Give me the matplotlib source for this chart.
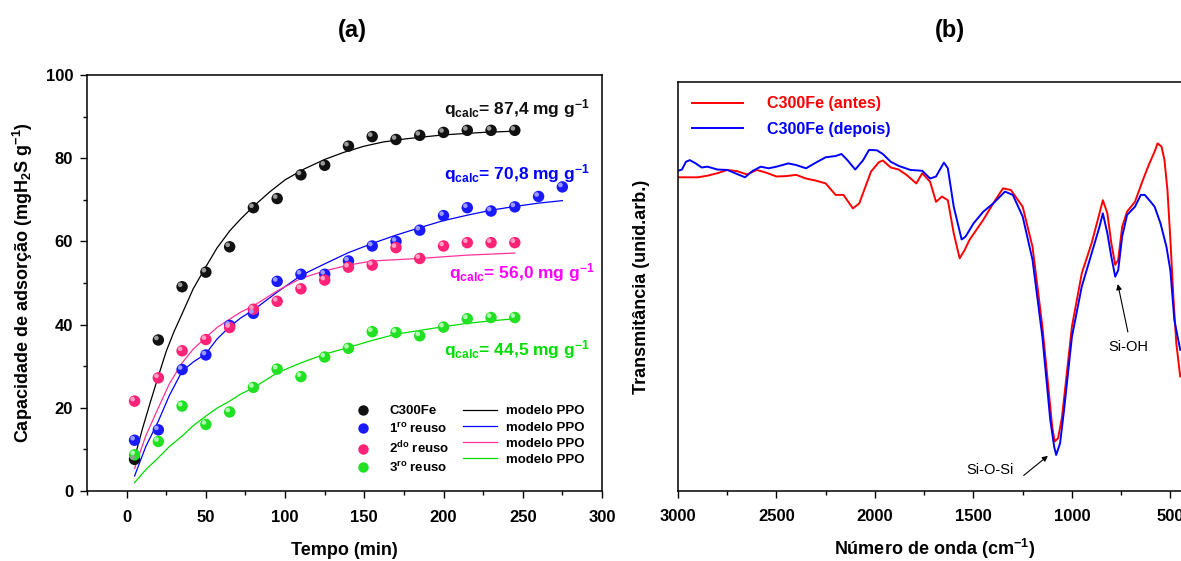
import matplotlib
matplotlib.use("Agg")
import matplotlib.pyplot as plt
from matplotlib.lines import Line2D
from matplotlib.ticker import MultipleLocator, NullLocator
import matplotlib.transforms as mtransforms

plt.rcParams['font.family'] = ['Liberation Sans', 'DejaVu Sans']
plt.rcParams['font.weight'] = 'bold'
plt.rcParams['mathtext.default'] = 'regular'

# ---------------- panel (a) data ----------------
t_main = [5, 20, 35, 50, 65, 80, 95, 110, 125, 140, 155, 170, 185, 200, 215, 230, 245]
t_reuse1 = t_main + [260, 275]

q_c300 = [7.6, 36.3, 49.1, 52.6, 58.7, 68.1, 70.3, 76.0, 78.3, 82.9, 85.2, 84.5, 85.5, 86.2, 86.7, 86.7, 86.7]
q_reuse1 = [12.2, 14.7, 29.2, 32.7, 39.8, 42.7, 50.4, 52.1, 52.1, 55.3, 58.9, 60.0, 62.7, 66.2, 68.1, 67.3, 68.3, 70.8, 73.1]
q_reuse2 = [21.6, 27.2, 33.7, 36.4, 39.3, 43.7, 45.6, 48.6, 50.7, 53.8, 54.3, 58.5, 55.9, 58.9, 59.7, 59.7, 59.7]
q_reuse3 = [8.7, 11.9, 20.4, 16.0, 19.0, 24.9, 29.3, 27.5, 32.2, 34.3, 38.3, 38.1, 37.3, 39.4, 41.4, 41.7, 41.7]

# model (PPO) curves
tm_c300 = [5, 10, 15, 20, 25, 30, 35, 42, 50, 57, 65, 72, 80, 90, 100, 112, 125, 137, 150, 162, 175, 187, 200, 212, 225, 245]
qm_c300 = [8.0, 15.0, 21.4, 27.6, 33.6, 38.4, 42.6, 48.6, 53.9, 58.4, 62.5, 65.4, 68.4, 71.8, 74.8, 77.4, 79.7, 81.4, 82.9, 83.9, 84.6, 85.1, 85.6, 85.9, 86.2, 86.5]
tm_r1 = [5, 12, 20, 27, 35, 42, 50, 57, 65, 72, 80, 95, 110, 125, 140, 155, 170, 185, 200, 215, 230, 245, 260, 275]
qm_r1 = [3.6, 10.6, 16.8, 23.0, 28.8, 31.0, 33.0, 36.5, 39.5, 41.6, 43.5, 47.8, 51.8, 54.6, 57.3, 59.5, 61.5, 63.3, 65.0, 66.3, 67.5, 68.4, 69.2, 69.8]
tm_r2 = [5, 12, 20, 27, 35, 42, 50, 57, 65, 72, 80, 95, 110, 125, 140, 155, 185, 215, 245]
qm_r2 = [5.4, 13.2, 20.0, 25.8, 30.8, 34.1, 36.9, 39.3, 41.3, 43.0, 44.5, 48.1, 51.1, 52.9, 54.3, 55.3, 55.9, 56.7, 57.2]
tm_r3 = [5, 12, 20, 27, 35, 42, 50, 57, 65, 72, 80, 95, 110, 125, 140, 155, 170, 185, 200, 215, 230, 245]
qm_r3 = [2.0, 5.1, 8.0, 10.7, 13.2, 15.7, 18.0, 19.9, 21.6, 23.3, 24.8, 28.4, 30.8, 32.9, 34.5, 36.2, 37.7, 38.6, 39.5, 40.3, 40.9, 41.4]

series_labels = ['C300Fe', '1$^{ro}$ reuso', '2$^{do}$ reuso', '3$^{ro}$ reuso']
qcalc_labels = ['q$_{calc}$= 87,4 mg g$^{-1}$', 'q$_{calc}$= 70,8 mg g$^{-1}$',
                'q$_{calc}$= 56,0 mg g$^{-1}$', 'q$_{calc}$= 44,5 mg g$^{-1}$']

# ---------------- panel (b) data ----------------
wn_antes = [3000, 2950, 2900, 2850, 2800, 2750, 2700, 2650, 2600, 2550, 2500, 2450, 2400, 2350, 2300,
            2250, 2200, 2160, 2112, 2080, 2020, 1980, 1960, 1920, 1880, 1840, 1790, 1760, 1720, 1690,
            1660, 1630, 1600, 1570, 1545, 1520, 1450, 1400, 1350, 1310, 1250, 1200, 1150, 1120, 1100,
            1088, 1070, 1050, 1000, 950, 900, 860, 843, 820, 800, 780, 765, 745, 720, 680, 640, 610,
            580, 565, 545, 530, 515, 500, 485, 470, 450]
T_antes = [76.7, 76.7, 76.7, 77.1, 77.7, 78.5, 78.2, 77.4, 78.5, 77.8, 76.9, 77.0, 77.3, 76.4, 75.9,
           75.2, 72.4, 72.4, 69.1, 70.3, 78.1, 80.4, 80.8, 79.1, 78.6, 77.3, 75.2, 77.7, 75.6, 70.7,
           72.0, 71.1, 63.0, 56.9, 58.9, 61.4, 66.3, 70.3, 74.0, 73.6, 69.5, 59.7, 40.2, 25.5, 15.7,
           12.1, 12.9, 18.2, 40.2, 53.2, 60.6, 67.9, 71.1, 67.9, 60.6, 55.3, 56.5, 64.6, 68.3, 70.7,
           76.0, 79.7, 83.0, 85.0, 84.2, 80.9, 73.6, 61.4, 47.5, 36.1, 28.0]

wn_depois = [3000, 2980, 2960, 2940, 2910, 2880, 2850, 2800, 2750, 2700, 2660, 2620, 2580, 2540, 2500,
             2440, 2400, 2350, 2300, 2250, 2200, 2170, 2140, 2100, 2060, 2030, 1990, 1960, 1920, 1880,
             1820, 1760, 1720, 1690, 1650, 1630, 1600, 1560, 1540, 1500, 1450, 1400, 1340, 1300, 1250,
             1200, 1150, 1110, 1090, 1080, 1060, 1040, 1000, 950, 900, 860, 843, 820, 800, 780, 765,
             745, 720, 680, 650, 630, 600, 580, 550, 520, 500, 480, 450]
T_depois = [78.3, 78.6, 80.5, 80.9, 80.1, 79.1, 79.3, 78.6, 78.5, 77.5, 76.7, 78.3, 79.3, 78.9, 79.3,
            80.1, 79.7, 78.9, 80.3, 81.6, 81.9, 82.4, 80.9, 78.6, 80.9, 83.4, 83.3, 82.4, 80.5, 79.5,
            78.5, 78.3, 76.4, 76.9, 80.3, 78.9, 69.5, 61.5, 62.2, 65.4, 68.3, 70.3, 73.2, 72.4, 67.1,
            56.5, 37.7, 17.4, 10.8, 8.8, 11.7, 19.8, 37.7, 50.0, 58.1, 64.6, 67.9, 63.0, 57.3, 52.4, 54.0,
            62.2, 67.5, 69.5, 72.4, 72.4, 70.7, 69.5, 65.4, 59.7, 53.9, 41.8, 34.5]

# ---------------- styles ----------------
base_cols = ['#111111', '#1a1aff', '#ff2277', '#22e022']
hi_cols = ['#9a9a9a', '#9a9aff', '#ffa0c4', '#b0ffb0']
line_cols = ['#000000', '#0000ff', '#ff3399', '#00dd00']
text_cols = ['#111111', '#0000ff', '#ff00ff', '#00dd00']

fig = plt.figure(figsize=(11.81, 5.61), dpi=100)
axA = fig.add_axes([0.0737, 0.1248, 0.436, 0.7415])
axB = fig.add_axes([0.5741, 0.1248, 0.4336, 0.729])

# ---------- (a) ----------
xs = [t_main, t_reuse1, t_main, t_main]
ys = [q_c300, q_reuse1, q_reuse2, q_reuse3]
tms = [tm_c300, tm_r1, tm_r2, tm_r3]
qms = [qm_c300, qm_r1, qm_r2, qm_r3]
hl_trans = mtransforms.offset_copy(axA.transData, fig=fig, x=-1.4, y=1.4, units='points')
for i in range(4):
    axA.plot(tms[i], qms[i], color=line_cols[i], lw=0.9, zorder=2)
for i in range(4):
    axA.scatter(xs[i], ys[i], s=68, color=base_cols[i], edgecolors='none', zorder=3)
    axA.scatter(xs[i], ys[i], s=11, color=hi_cols[i], edgecolors='none', zorder=4,
                transform=hl_trans)

axA.set_xlim(-25, 300)
axA.set_ylim(0, 100)
axA.xaxis.set_major_locator(MultipleLocator(50))
axA.xaxis.set_minor_locator(MultipleLocator(25))
axA.yaxis.set_major_locator(MultipleLocator(20))
axA.yaxis.set_minor_locator(MultipleLocator(10))
axA.tick_params(which='major', direction='out', length=5, width=1, labelsize=12)
axA.tick_params(axis='x', which='major', pad=9)
axA.tick_params(axis='y', which='major', pad=5)
axA.tick_params(which='minor', direction='out', length=3, width=1)
for s in axA.spines.values():
    s.set_linewidth(1.1)
axA.set_xlabel('Tempo (min)', fontsize=13, fontweight='bold', labelpad=12)
axA.set_ylabel('Capacidade de adsorção (mgH$_2$S g$^{-1}$)', fontsize=13, fontweight='bold', labelpad=8)
fig.text(352 / 1181, 1 - 30 / 561, '(a)', fontsize=17, fontweight='bold', ha='center', va='center')

qpos_x = [246, 246, 249.5, 246]
qpos_y = [92.0, 76.4, 52.4, 34.1]
for i in range(4):
    axA.text(qpos_x[i], qpos_y[i], qcalc_labels[i], color=text_cols[i], fontsize=12.5,
             fontweight='bold', ha='center', va='center')

mk_handles = [Line2D([], [], ls='none', marker='o', markersize=7.5, color=base_cols[i],
                     markeredgecolor='none') for i in range(4)]
ln_handles = [Line2D([], [], color=line_cols[i], lw=0.9) for i in range(4)]
leg = axA.legend(mk_handles + ln_handles, series_labels + ['modelo PPO'] * 4, ncol=2,
                 loc='lower right', bbox_to_anchor=(0.99, 0.01), frameon=False,
                 prop={'size': 9.5, 'weight': 'bold'}, handlelength=2.6, handletextpad=0.7,
                 columnspacing=1.0, labelspacing=0.3)

# ---------- (b) ----------
axB.plot(wn_antes, T_antes, color='#ff0000', lw=1.4, label='C300Fe (antes)')
axB.plot(wn_depois, T_depois, color='#0000ff', lw=1.4, label='C300Fe (depois)')
axB.set_xlim(3000, 400)
axB.set_ylim(0, 100)
axB.xaxis.set_major_locator(MultipleLocator(500))
axB.xaxis.set_minor_locator(MultipleLocator(250))
axB.yaxis.set_major_locator(NullLocator())
axB.yaxis.set_minor_locator(NullLocator())
axB.tick_params(which='major', direction='out', length=5, width=1, labelsize=12, pad=8)
axB.tick_params(which='minor', direction='out', length=3, width=1)
for s in axB.spines.values():
    s.set_linewidth(1.1)
axB.set_xlabel('Número de onda (cm$^{-1}$)', fontsize=13, fontweight='bold', labelpad=9)
axB.set_ylabel('Transmitância (unid.arb.)', fontsize=13, fontweight='bold', labelpad=20)
legB = axB.legend(loc='upper left', frameon=False, handlelength=3.2, handletextpad=1.5,
                  prop={'size': 11.5, 'weight': 'bold'}, labelcolor='linecolor',
                  borderaxespad=0.5, labelspacing=0.65)
axB.text(1416, 5.1, 'Si-O-Si', fontsize=10.5, fontweight='normal', ha='center', va='center')
axB.annotate('', xy=(1122, 8.6), xytext=(1245, 3.8),
             arrowprops=dict(arrowstyle='-|>', color='black', lw=0.8, mutation_scale=8,
                             shrinkA=0, shrinkB=0))
axB.text(711, 35.2, 'Si-OH', fontsize=10.5, fontweight='normal', ha='center', va='center')
axB.annotate('', xy=(767, 50.6), xytext=(716, 38.9),
             arrowprops=dict(arrowstyle='-|>', color='black', lw=0.8, mutation_scale=8,
                             shrinkA=0, shrinkB=0))
fig.text(950 / 1181, 1 - 30 / 561, '(b)', fontsize=17, fontweight='bold', ha='center', va='center')

fig.savefig('out.png', dpi=100)
